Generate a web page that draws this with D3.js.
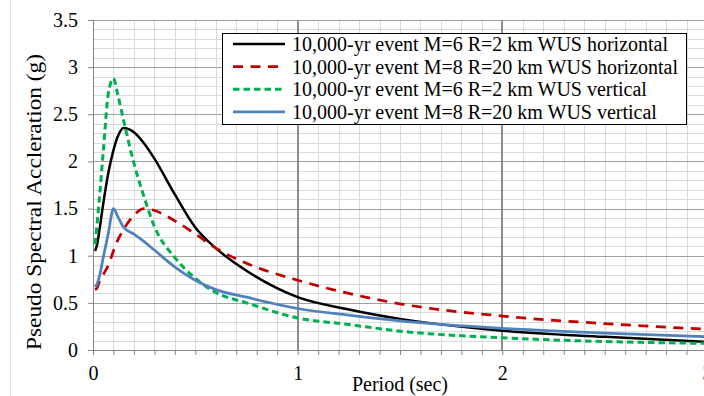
<!DOCTYPE html>
<html lang="en">
<head>
<meta charset="UTF-8">
<title>Pseudo Spectral Acceleration</title>
<script src="https://cdn.jsdelivr.net/npm/d3@7"></script>
<style>
  body { margin: 0; background: #fff; }
  text { font-family: "Liberation Serif", "Times New Roman", serif; fill: #000; }
</style>
</head>
<body>
<script type="text/javascript">

// periods (sec)
var periods = [0.01, 0.02, 0.03, 0.05, 0.075, 0.1, 0.12, 0.15, 0.2, 0.25, 0.3, 0.4, 0.5, 0.6, 0.75, 1, 1.25, 1.5, 2, 2.5, 3];

// spectral acceleration (g)
var m6Horiz = [1.05, 1.12, 1.25, 1.55, 1.88, 2.12, 2.26, 2.355, 2.31, 2.19, 2.03, 1.65, 1.30, 1.08, 0.84, 0.56, 0.43, 0.33, 0.205, 0.14, 0.085];
var m8Horiz = [0.64, 0.66, 0.72, 0.80, 0.90, 1.05, 1.16, 1.28, 1.43, 1.50, 1.48, 1.37, 1.23, 1.08, 0.92, 0.74, 0.60, 0.49, 0.36, 0.28, 0.22];
var m6Vert  = [1.12, 1.34, 1.58, 2.10, 2.72, 2.88, 2.72, 2.43, 1.98, 1.62, 1.31, 0.98, 0.76, 0.61, 0.50, 0.34, 0.27, 0.20, 0.13, 0.09, 0.07];
var m8Vert  = [0.67, 0.70, 0.77, 0.98, 1.24, 1.50, 1.42, 1.30, 1.23, 1.15, 1.06, 0.88, 0.74, 0.64, 0.56, 0.44, 0.37, 0.31, 0.23, 0.18, 0.14];

var labels = [
  "10,000-yr event M=6 R=2 km WUS horizontal",
  "10,000-yr event M=8 R=20 km WUS horizontal",
  "10,000-yr event M=6 R=2 km WUS vertical",
  "10,000-yr event M=8 R=20 km WUS vertical"
];

var xTicks = [0, 1, 2, 3];
var yTicks = [0, 0.5, 1, 1.5, 2, 2.5, 3, 3.5];

var W = 704, H = 396;
var margin = { top: 20, left: 93, bottom: 46, right: -3 };
var width = W - margin.left - margin.right;
var height = H - margin.top - margin.bottom;

function main() {

  var series = [
    { name: labels[0], values: m6Horiz, color: "#000000", width: 2.5, dash: null },
    { name: labels[1], values: m8Horiz, color: "#C00000", width: 2.75, dash: "10,7.5" },
    { name: labels[2], values: m6Vert,  color: "#00B050", width: 3, dash: "6.5,4" },
    { name: labels[3], values: m8Vert,  color: "#4F81BD", width: 2.75, dash: null }
  ];

  var x = d3.scaleLinear().domain([0, 3]).range([0, width]);
  var y = d3.scaleLinear().domain([0, 3.5]).range([height, 0]);

  var svg = d3.select("body").append("svg")
    .attr("width", W)
    .attr("height", H);

  // faint chart border
  svg.append("line")
    .attr("x1", 10.5).attr("x2", 10.5)
    .attr("y1", 0).attr("y2", H)
    .attr("stroke", "#e3e3e3");

  var s = svg.append("g")
    .attr("transform", "translate(" + margin.left + "," + margin.top + ")");

  // minor grid
  var minorX = d3.range(1, 31).map(function (i) { return i / 10; });
  var minorY = d3.range(1, 36).map(function (i) { return i / 10; });

  s.append("g").selectAll("line")
    .data(minorX)
    .enter().append("line")
    .attr("x1", function (d) { return Math.round(x(d)) + 0.5; })
    .attr("x2", function (d) { return Math.round(x(d)) + 0.5; })
    .attr("y1", 0).attr("y2", height)
    .attr("stroke", "#dadada");

  s.append("g").selectAll("line")
    .data(minorY)
    .enter().append("line")
    .attr("y1", function (d) { return Math.round(y(d)) + 0.5; })
    .attr("y2", function (d) { return Math.round(y(d)) + 0.5; })
    .attr("x1", 0).attr("x2", width)
    .attr("stroke", "#dadada");

  // major grid
  s.append("g").selectAll("line")
    .data(yTicks.slice(1))
    .enter().append("line")
    .attr("y1", function (d) { return Math.round(y(d)) + 0.5; })
    .attr("y2", function (d) { return Math.round(y(d)) + 0.5; })
    .attr("x1", 0).attr("x2", width)
    .attr("stroke", "#a0a0a0");

  s.append("g").selectAll("line")
    .data(xTicks.slice(1))
    .enter().append("line")
    .attr("x1", function (d) { return Math.round(x(d)); })
    .attr("x2", function (d) { return Math.round(x(d)); })
    .attr("y1", 0).attr("y2", height)
    .attr("stroke", "#8c8c8c")
    .attr("stroke-width", 2);

  // axes
  var axisY = s.append("g")
    .call(d3.axisLeft(y).tickValues(yTicks).tickSize(5).tickPadding(10)
      .tickFormat(function (d) { return String(d); }));
  axisY.select(".domain").attr("stroke", "#868686");
  axisY.selectAll(".tick line").attr("stroke", "#868686");
  axisY.selectAll(".tick text")
    .style("font-family", "'Liberation Serif', serif")
    .style("font-size", "20px")
    .attr("fill", "#000");

  var axisX = s.append("g")
    .attr("transform", "translate(0," + height + ")")
    .call(d3.axisBottom(x).tickValues(d3.range(0, 31).map(function (i) { return i / 10; }))
      .tickSize(5).tickSizeOuter(0)
      .tickFormat(function (d) { return xTicks.indexOf(d) >= 0 ? String(d) : ""; }));
  axisX.select(".domain").attr("stroke", "#868686");
  axisX.selectAll(".tick line").attr("stroke", "#868686");
  axisX.selectAll(".tick text")
    .style("font-family", "'Liberation Serif', serif")
    .style("font-size", "20px")
    .attr("fill", "#000")
    .attr("y", 16);

  // series lines
  var line = d3.line()
    .x(function (d, i) { return x(periods[i]); })
    .y(function (d) { return y(d); })
    .curve(d3.curveMonotoneX);

  series.forEach(function (sr) {
    s.append("path")
      .attr("d", line(sr.values))
      .attr("fill", "none")
      .attr("stroke", sr.color)
      .attr("stroke-width", sr.width)
      .attr("stroke-dasharray", sr.dash)
      .attr("stroke-linejoin", "round");
  });

  // axis titles
  svg.append("text")
    .attr("x", margin.left + x(1.5))
    .attr("y", 391)
    .attr("text-anchor", "middle")
    .style("font-size", "20px")
    .text("Period (sec)");

  svg.append("text")
    .attr("transform", "translate(41," + 202 + ") rotate(-90)")
    .attr("text-anchor", "middle")
    .attr("textLength", 296)
    .attr("lengthAdjust", "spacingAndGlyphs")
    .style("font-size", "20px")
    .text("Pseudo Spectral Accleration (g)");

  // legend
  var lg = svg.append("g").attr("transform", "translate(222,33)");
  lg.append("rect")
    .attr("x", 0.5).attr("y", 0.5)
    .attr("width", 464).attr("height", 91)
    .attr("fill", "#fff")
    .attr("stroke", "#000");

  var rows = lg.selectAll(".row")
    .data(series)
    .enter().append("g")
    .attr("transform", function (d, i) { return "translate(0," + (11 + i * 22.6) + ")"; });

  rows.append("line")
    .attr("x1", 11).attr("x2", 63)
    .attr("y1", 0).attr("y2", 0)
    .attr("stroke", function (d) { return d.color; })
    .attr("stroke-width", function (d) { return d.width; })
    .attr("stroke-dasharray", function (d) { return d.dash; });

  rows.append("text")
    .attr("x", 70)
    .attr("y", 7)
    .style("font-size", "20px")
    .text(function (d) { return d.name; });
}

window.addEventListener("load", main);

</script>
</body>
</html>
